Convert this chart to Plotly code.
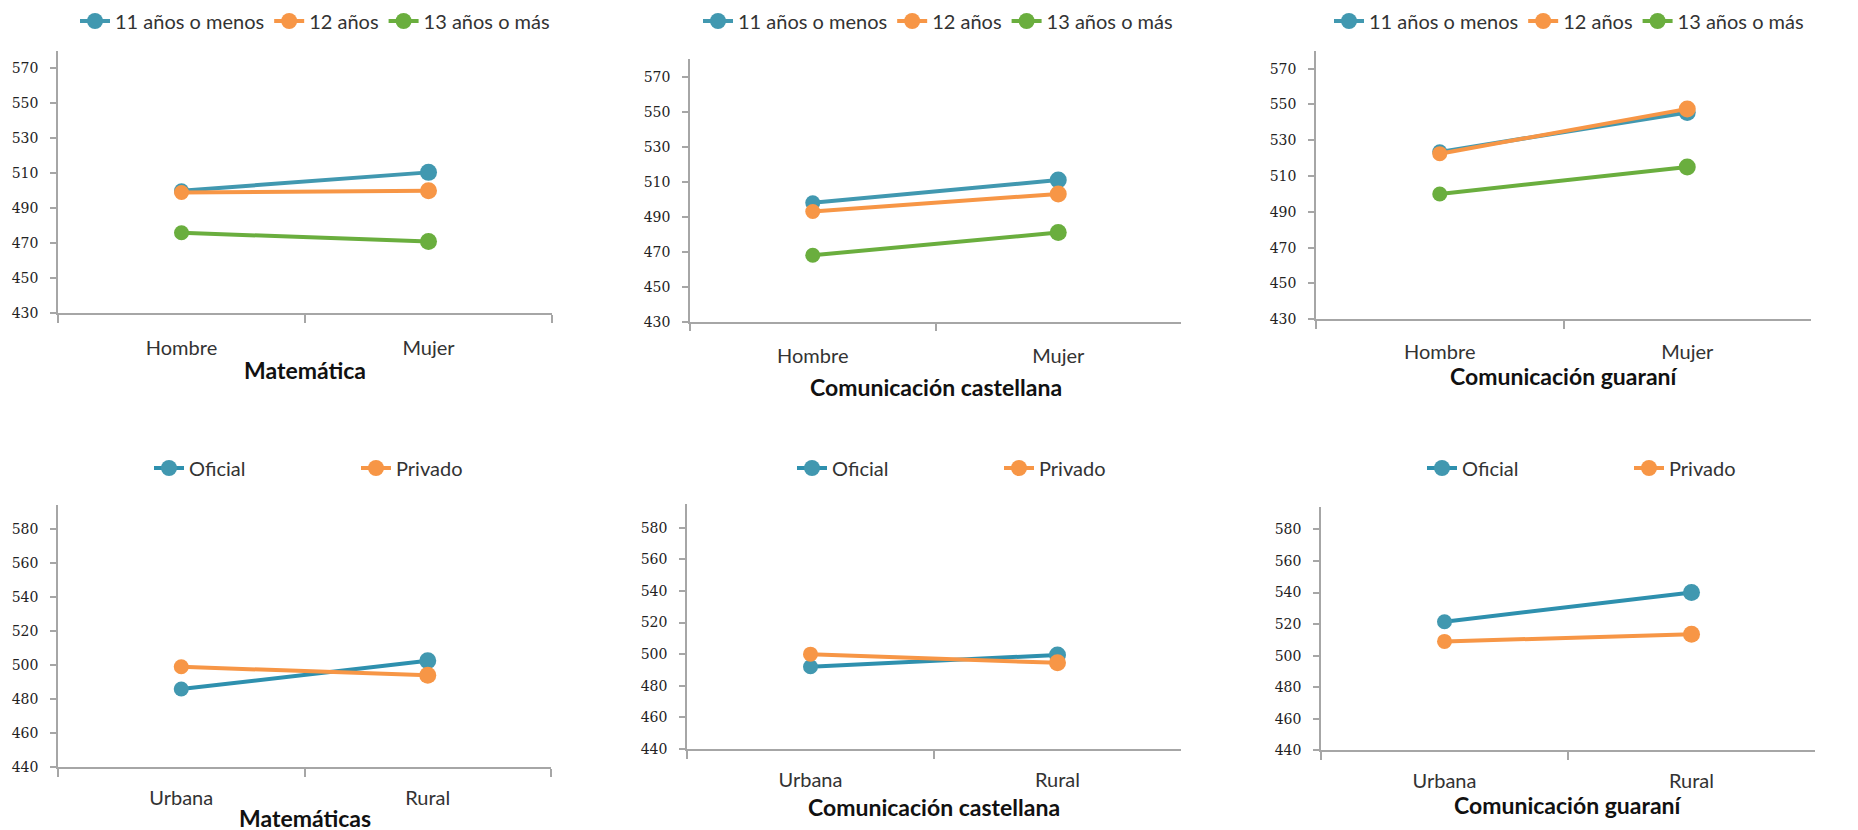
import plotly.graph_objects as go

# ---------------- data ----------------
sexo = ["Hombre", "Mujer"]
zona = ["Urbana", "Rural"]
edad_series = ["11 años o menos", "12 años", "13 años o más"]
gestion_series = ["Oficial", "Privado"]

mat_11 = [500, 510.5]
mat_12 = [499, 500]
mat_13 = [476, 471]

cas_11 = [498, 511]
cas_12 = [493, 503]
cas_13 = [468, 481]

gua_11 = [523.5, 545.5]
gua_12 = [522.5, 547.5]
gua_13 = [500, 515]

mat_of = [486, 502.5]
mat_pr = [499, 494]
cas_of = [492, 499.5]
cas_pr = [500, 494.5]
gua_of = [521.5, 540]
gua_pr = [509, 513.5]

titles_top = ["Matemática", "Comunicación castellana", "Comunicación guaraní"]
titles_bot = ["Matemáticas", "Comunicación castellana", "Comunicación guaraní"]

ticks_top = [430, 450, 470, 490, 510, 530, 550, 570]
ticks_bot = [440, 460, 480, 500, 520, 540, 560, 580]

# ---------------- style ----------------
W, H = 1858, 830
OFF = 8  # page body margin of the html page
BLUE = "#4198B0"
BLUE2 = "#2E90AE"
ORANGE = "#F79646"
GREEN = "#6AAE3E"
AXC = "#A6A6A6"
TXT = "Lato, 'Open Sans', sans-serif"
NUM = "'DejaVu Serif', serif"

def fx(a):
    return (a - OFF) / W

def fy(b):
    return 1 - (b - OFF) / H

def px_x(a, b):
    return [fx(a), fx(b)]

def px_y(top, bot):
    return [fy(bot), fy(top)]

panels = [
    dict(x=(58, 552), y=(50.7, 313.3), rng=[430, 580], ticks=ticks_top, title_y=370, so=16),
    dict(x=(690, 1181), y=(59.3, 321.7), rng=[430, 580], ticks=ticks_top, title_y=387, so=16),
    dict(x=(1316, 1811), y=(50.7, 319.3), rng=[430, 580], ticks=ticks_top, title_y=376, so=14),
    dict(x=(58, 551), y=(505, 767.3), rng=[440, 594], ticks=ticks_bot, title_y=818, so=12),
    dict(x=(687, 1181), y=(504, 749), rng=[440, 595], ticks=ticks_bot, title_y=807, so=12),
    dict(x=(1321, 1815), y=(507.3, 750.3), rng=[440, 594], ticks=ticks_bot, title_y=805, so=12),
]

top_data = [
    [mat_11, mat_12, mat_13],
    [cas_11, cas_12, cas_13],
    [gua_11, gua_12, gua_13],
]
bot_data = [
    [mat_of, mat_pr],
    [cas_of, cas_pr],
    [gua_of, gua_pr],
]

fig = go.Figure()
legend_names = ["legend", "legend2", "legend3", "legend4", "legend5", "legend6"]
msize = [15, 17]

for i in range(6):
    ax = "" if i == 0 else str(i + 1)
    lg = legend_names[i]
    if i < 3:
        series = top_data[i]
        names = edad_series
        colors = [BLUE, ORANGE, GREEN]
        cats = sexo
    else:
        series = bot_data[i - 3]
        names = gestion_series
        colors = [BLUE2, ORANGE]
        cats = zona
    for name, vals, col in zip(names, series, colors):
        mcol = BLUE if col == BLUE2 else col
        fig.add_trace(go.Scatter(
            x=cats, y=vals, name=name, mode="lines+markers",
            line=dict(color=col, width=4),
            marker=dict(color=mcol, size=msize, opacity=1, line=dict(width=0)),
            opacity=1,
            xaxis="x" + ax, yaxis="y" + ax, legend=lg,
            showlegend=True, hoverinfo="x+y+name",
        ))

layout = dict(
    width=W, height=H,
    margin=dict(l=0, r=0, t=0, b=0, autoexpand=False),
    paper_bgcolor="white", plot_bgcolor="white",
    font=dict(family=TXT, size=16, color="#262626"),
    annotations=[],
)

legend_pos = [
    (75, 1.5, None), (698, 1.5, None), (1329, 1.5, None),
    (149, 448.5, 162), (792, 448.5, 162), (1422, 448.5, 162),
]

for i, p in enumerate(panels):
    ax = "" if i == 0 else str(i + 1)
    layout["xaxis" + ax] = dict(
        domain=px_x(*p["x"]), anchor="y" + ax, type="category",
        range=[-0.5, 1.5], tickson="boundaries", ticks="outside", ticklen=8,
        tickcolor=AXC, tickwidth=1.5, showline=True, linecolor=AXC, linewidth=1.5,
        showgrid=False, zeroline=False, fixedrange=True,
        tickfont=dict(family=TXT, size=20, color="#333333"),
        ticklabelstandoff=p["so"],
    )
    layout["yaxis" + ax] = dict(
        domain=px_y(*p["y"]), anchor="x" + ax, range=p["rng"],
        tickmode="array", tickvals=p["ticks"], ticktext=[str(t) for t in p["ticks"]],
        ticks="outside", ticklen=6, tickcolor=AXC, tickwidth=1.5,
        showline=True, linecolor=AXC, linewidth=1.5, showgrid=False, zeroline=False,
        fixedrange=True, tickfont=dict(family=NUM, size=14, color="#222222"),
        ticklabelstandoff=9,
    )
    title = titles_top[i] if i < 3 else titles_bot[i - 3]
    cx = (p["x"][0] + p["x"][1]) / 2
    layout["annotations"].append(dict(
        text="<b>" + title + "</b>", x=fx(cx), y=fy(p["title_y"]),
        xref="paper", yref="paper", xanchor="center", yanchor="middle",
        showarrow=False, font=dict(family=TXT, size=23, color="#111111"),
    ))
    lx, ly, ew = legend_pos[i]
    leg = dict(
        orientation="h", x=fx(lx), y=fy(ly), xanchor="left", yanchor="top",
        font=dict(family=TXT, size=20, color="#333333"), bgcolor="rgba(0,0,0,0)",
        itemclick=False, itemdoubleclick=False, tracegroupgap=0,
    )
    if ew:
        leg["entrywidth"] = ew
    layout[legend_names[i]] = leg

fig.update_layout(**layout)
fig.write_html("out.html")
